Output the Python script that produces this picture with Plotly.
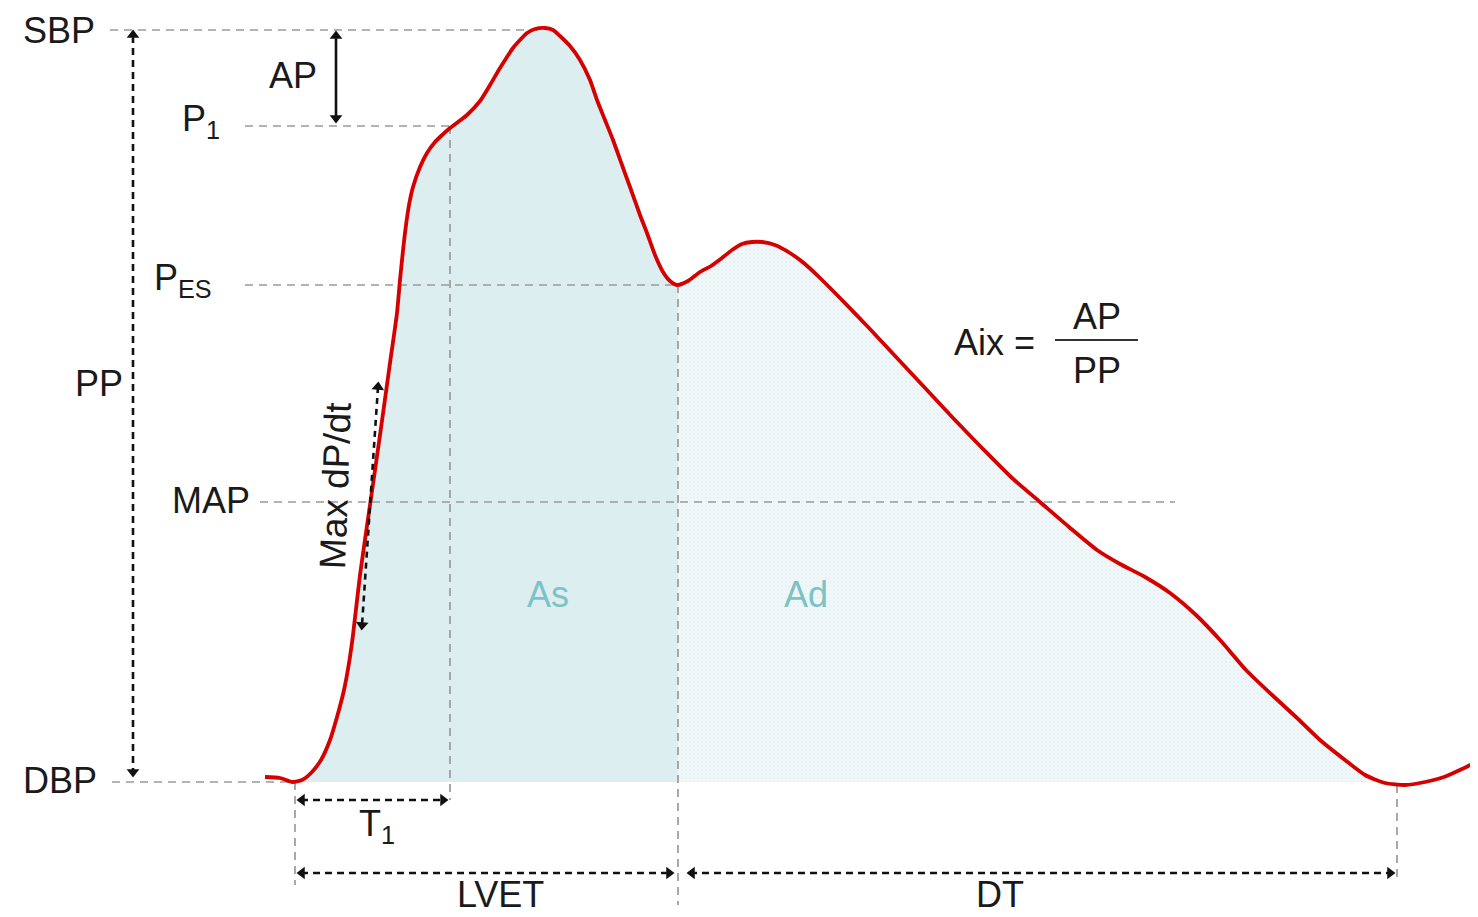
import numpy as np
import plotly.graph_objects as go

# ---- waveform (image units: x = time, y = pressure, y axis reversed) ----
wave_x = [265, 280, 292, 302, 311, 321, 330, 337, 344, 349, 353, 360, 370, 380, 390, 397,
          400, 405, 409, 413, 420, 427, 435, 440, 450, 458, 467, 480, 490, 500, 513, 520,
          527, 535, 545, 553, 560, 570, 580, 590, 597, 605, 613, 622, 630, 640, 647, 655,
          663, 670, 677, 688, 700, 711, 722, 732, 742, 752, 762, 775, 790, 805, 819, 840,
          869, 897, 926, 954, 983, 1011, 1040, 1069, 1097, 1120, 1145, 1170, 1196, 1221,
          1246, 1271, 1296, 1320, 1345, 1365, 1385, 1405, 1425, 1444, 1462, 1478]
wave_y = [777, 778, 782, 780, 773, 760, 740, 717, 690, 663, 635, 575, 505, 435, 363, 313,
          280, 233, 205, 187, 167, 153, 142, 137, 128, 122, 115, 101, 85, 68, 48, 40,
          33, 29, 28, 30, 36, 46, 60, 80, 100, 120, 140, 165, 187, 215, 233, 255,
          272, 281, 285, 281, 272, 266, 258, 250, 244, 242, 242, 245, 253, 264, 277, 298,
          328, 358, 389, 419, 449, 477, 502, 527, 550, 564, 577, 593, 615, 641,
          670, 694, 717, 740, 760, 775, 783, 785, 782, 777, 769, 761]

# ---- reference levels and instants ----
SBP_Y, P1_Y, PES_Y, MAP_Y, DBP_Y = 30, 126, 285, 502, 782
T0_X, T1_X, ES_X, END_X = 295, 450, 678, 1397
PP_X, AP_X = 133, 336
T1_ARROW_Y, LVET_ARROW_Y = 800, 873
DPDT = [(378, 387), (362, 625)]

label_text = ["SBP", "AP", "P<sub>1</sub>", "P<sub>ES</sub>", "PP", "MAP", "DBP",
              "T<sub>1</sub>", "LVET", "DT"]
label_x = [59, 293, 201, 183, 99, 211, 60, 377, 500, 1000]
label_y = [30, 75, 121, 280, 383, 500, 780, 826, 894, 894]

GRAY = "#9a9a9a"
RED = "#d50000"
FONT = "Liberation Sans"
FS = 36
PAGE_OFFSET = 8  # default body margin of the html page

fig = go.Figure()

wx = np.array(wave_x, float)
wy = np.array(wave_y, float)

def area(x0, x1):
    m = (wx > x0) & (wx < x1)
    xs = [x0] + list(wx[m]) + [x1]
    ys = [np.interp(x0, wx, wy)] + list(wy[m]) + [np.interp(x1, wx, wy)]
    return xs + [x1, x0, x0], ys + [DBP_Y, DBP_Y, ys[0]]

ax_, ay_ = area(T0_X, ES_X)
fig.add_trace(go.Scatter(x=ax_, y=ay_, fill="toself", fillcolor="#ddeef1",
                         line=dict(width=0), mode="lines", hoverinfo="skip"))
dx_, dy_ = area(ES_X, END_X)
fig.add_trace(go.Scatter(x=dx_, y=dy_, fill="toself", line=dict(width=0), mode="lines",
                         fillpattern=dict(shape=".", bgcolor="#f0f7f9", fgcolor="#dcebee",
                                          size=4, solidity=0.25),
                         hoverinfo="skip"))

def gline(x, y):
    fig.add_trace(go.Scatter(x=x, y=y, mode="lines", hoverinfo="skip",
                             line=dict(color=GRAY, width=1.7, dash="8px,6px")))

# gray dashed reference lines
gline([110, 540], [SBP_Y, SBP_Y])
gline([245, T1_X], [P1_Y, P1_Y])
gline([245, ES_X], [PES_Y, PES_Y])
gline([260, 1175], [MAP_Y, MAP_Y])
gline([112, T0_X], [DBP_Y, DBP_Y])
gline([T1_X, T1_X], [P1_Y, T1_ARROW_Y])
gline([ES_X, ES_X], [PES_Y, 905])
gline([T0_X, T0_X], [DBP_Y, 885])
gline([END_X, END_X], [785, 878])

# red waveform
fig.add_trace(go.Scatter(x=wave_x, y=wave_y, mode="lines", hoverinfo="skip",
                         line=dict(color=RED, width=3.8, shape="spline", smoothing=0.6)))

def bline(x, y, dash="7px,5px"):
    fig.add_trace(go.Scatter(x=x, y=y, mode="lines", hoverinfo="skip",
                             line=dict(color="#111111", width=2.6, dash=dash)))

def heads(x, y, sym, angle=0):
    fig.add_trace(go.Scatter(x=x, y=y, mode="markers", hoverinfo="skip",
                             marker=dict(symbol=sym, size=11, color="#111111", angle=angle)))

# PP
bline([PP_X, PP_X], [SBP_Y + 6, DBP_Y - 6])
heads([PP_X], [SBP_Y + 5], "triangle-up")
heads([PP_X], [DBP_Y - 10], "triangle-down")
# AP (solid)
bline([AP_X, AP_X], [SBP_Y + 6, P1_Y - 6], dash="solid")
heads([AP_X], [SBP_Y + 6], "triangle-up")
heads([AP_X], [P1_Y - 8], "triangle-down")
# T1
bline([T0_X + 6, T1_X - 6], [T1_ARROW_Y] * 2)
heads([T0_X + 7], [T1_ARROW_Y], "triangle-left")
heads([T1_X - 7], [T1_ARROW_Y], "triangle-right")
# LVET
bline([T0_X + 6, ES_X - 8], [LVET_ARROW_Y] * 2)
heads([T0_X + 7], [LVET_ARROW_Y], "triangle-left")
heads([ES_X - 9], [LVET_ARROW_Y], "triangle-right")
# DT
bline([ES_X + 12, END_X - 6], [LVET_ARROW_Y] * 2)
heads([ES_X + 14], [LVET_ARROW_Y], "triangle-left")
heads([END_X - 7], [LVET_ARROW_Y], "triangle-right")
# Max dP/dt
bline([DPDT[0][0], DPDT[1][0]], [DPDT[0][1], DPDT[1][1]], dash="6px,5px")
ang = float(np.degrees(np.arctan2(DPDT[0][0] - DPDT[1][0], DPDT[1][1] - DPDT[0][1])))
heads([DPDT[0][0]], [DPDT[0][1]], "triangle-up", ang)
heads([DPDT[1][0]], [DPDT[1][1]], "triangle-down", ang)

# labels
for t, x, y in zip(label_text, label_x, label_y):
    fig.add_annotation(x=x, y=y, text=t, showarrow=False,
                       font=dict(family=FONT, size=FS, color="#1a1a1a"))

fig.add_annotation(x=548, y=594, text="As", showarrow=False,
                   font=dict(family=FONT, size=FS, color="#7cc3c6"))
fig.add_annotation(x=806, y=594, text="Ad", showarrow=False,
                   font=dict(family=FONT, size=FS, color="#7cc3c6"))
fig.add_annotation(x=335, y=486, text="Max dP/dt", showarrow=False, textangle=-88,
                   font=dict(family=FONT, size=37, color="#1a1a1a"))
fig.add_annotation(x=994, y=342, text="Aix =", showarrow=False,
                   font=dict(family=FONT, size=FS, color="#1a1a1a"))
fig.add_annotation(x=1097, y=316, text="AP", showarrow=False,
                   font=dict(family=FONT, size=FS, color="#1a1a1a"))
fig.add_annotation(x=1097, y=370, text="PP", showarrow=False,
                   font=dict(family=FONT, size=FS, color="#1a1a1a"))
fig.add_trace(go.Scatter(x=[1055, 1138], y=[340, 340], mode="lines", hoverinfo="skip",
                         line=dict(color="#333333", width=2.2)))

W, H = 1478, 917
fig.update_layout(
    width=W - PAGE_OFFSET, height=H - PAGE_OFFSET, showlegend=False,
    margin=dict(l=0, r=0, t=0, b=0),
    paper_bgcolor="white", plot_bgcolor="white",
    xaxis=dict(range=[PAGE_OFFSET, W], visible=False, fixedrange=True),
    yaxis=dict(range=[H, PAGE_OFFSET], visible=False, fixedrange=True),
)
fig.write_html("out.html")
